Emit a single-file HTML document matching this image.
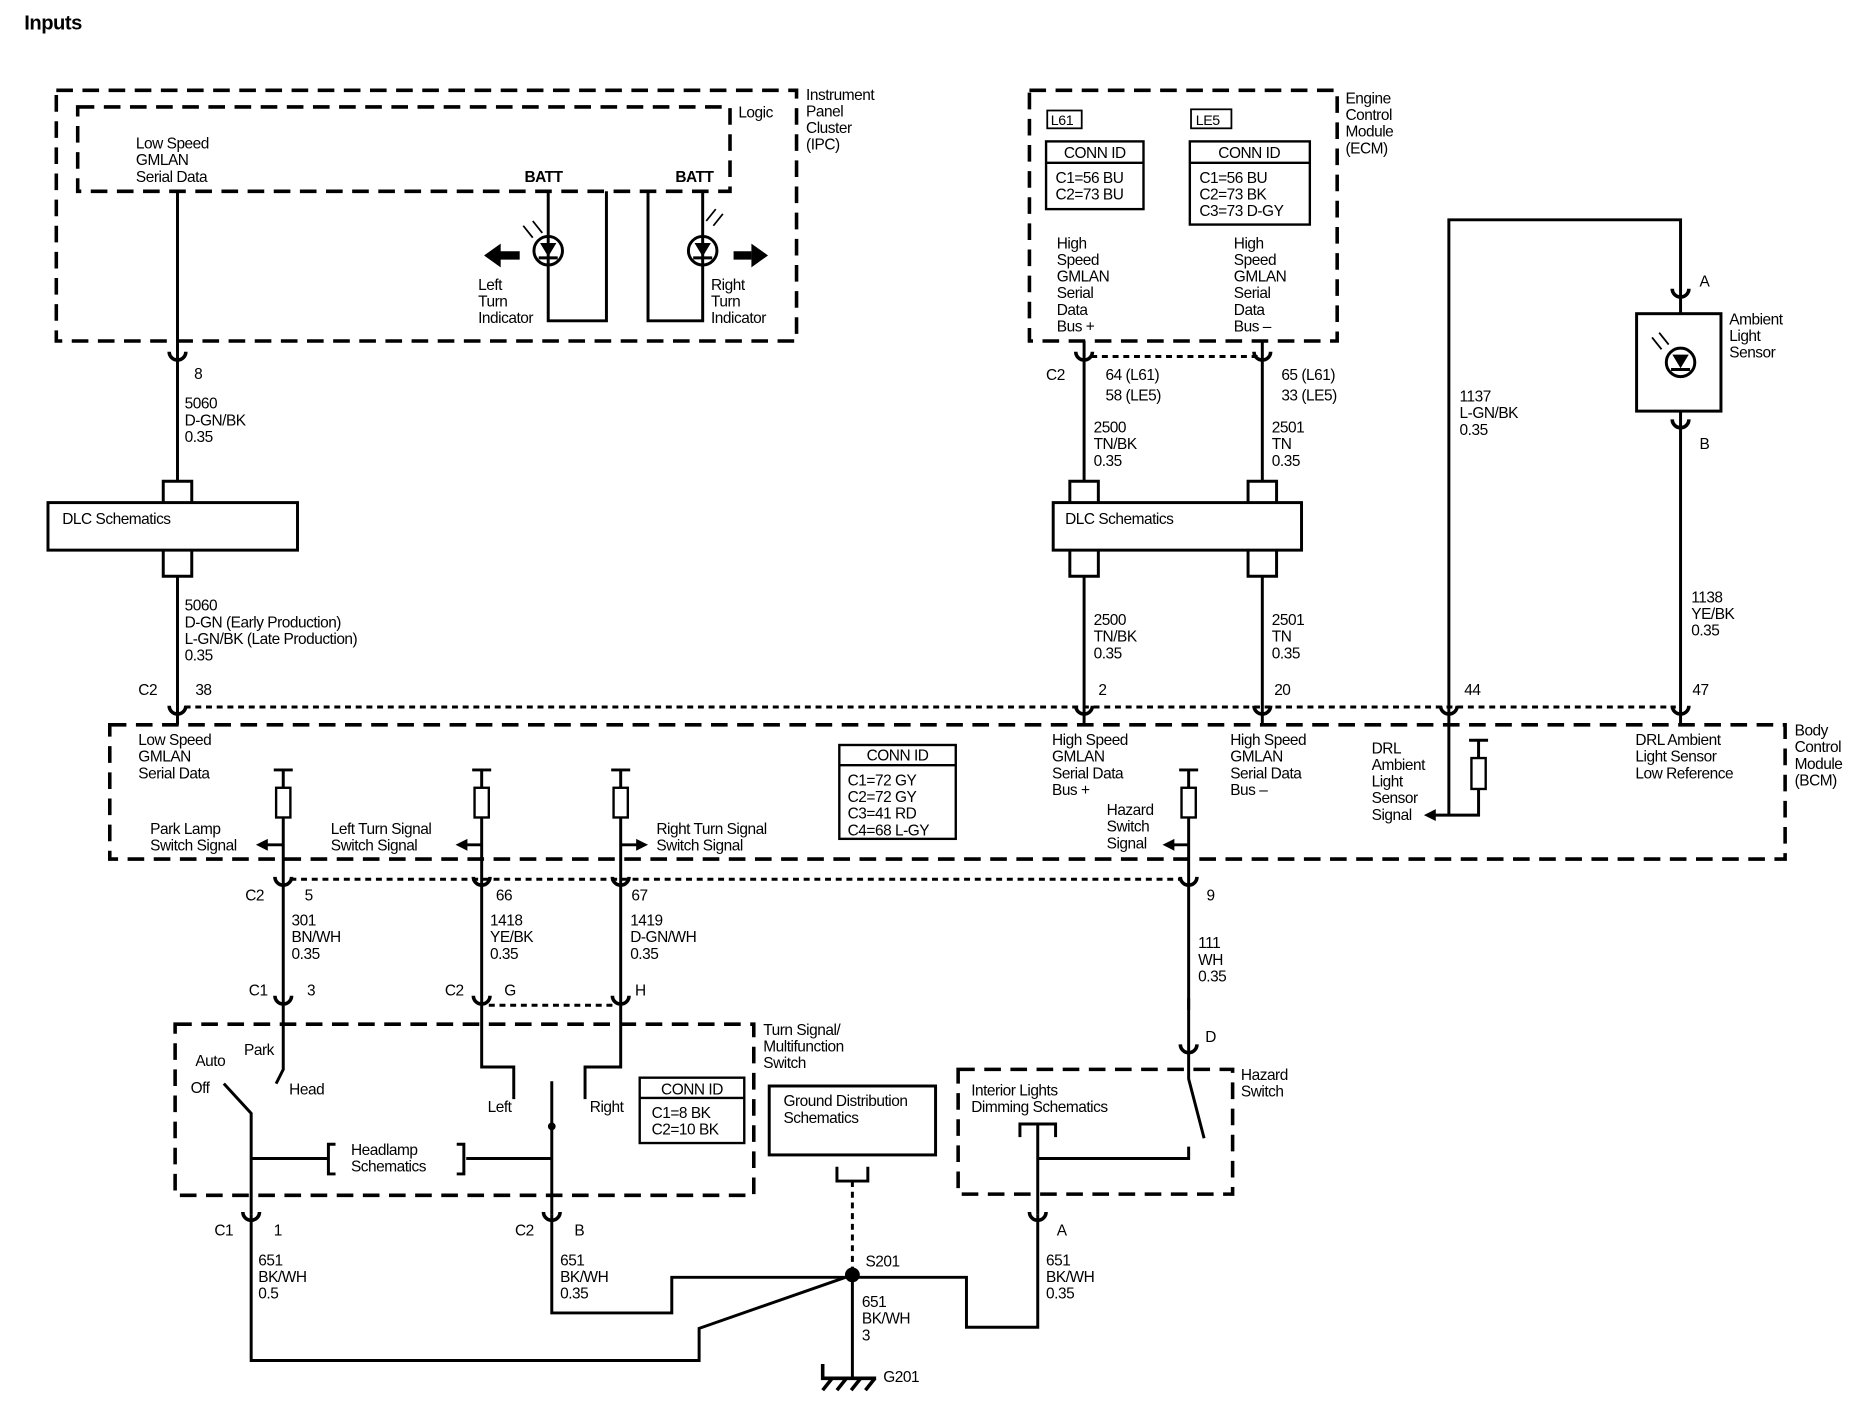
<!DOCTYPE html>
<html><head><meta charset="utf-8"><style>
html,body{margin:0;padding:0;background:#fff}
svg{display:block}
text{font-family:"Liberation Sans",Arial,sans-serif;font-size:13px;fill:#000;letter-spacing:-0.4px}
.b{font-weight:bold}
</style></head><body>
<svg width="1864" height="1408" viewBox="0 0 1568 1185" xmlns="http://www.w3.org/2000/svg">
<defs>
<g id="fc"><path d="M-7,-9 A7 7 0 0 0 7,-9" fill="none" stroke="#000" stroke-width="3"/></g>
</defs>
<g fill="none" stroke="#000" stroke-width="2.5">
<g stroke-width="3" stroke-dasharray="14 8">
<rect x="47" y="76" width="623" height="211"/>
<rect x="65" y="90" width="549" height="71"/>
<rect x="866" y="76" width="259" height="211"/>
<rect x="92" y="610" width="1410" height="113"/>
<rect x="147" y="862" width="487" height="144"/>
<rect x="806" y="900" width="231" height="105"/>
</g>
<g stroke-width="2.5" stroke-dasharray="5 4">
<line x1="155" y1="595" x2="1410" y2="595"/>
<line x1="918" y1="300" x2="1058" y2="300"/>
<line x1="244" y1="740" x2="994" y2="740"/>
<line x1="411" y1="846" x2="516" y2="846"/>
<line x1="717" y1="994" x2="717" y2="1072"/>
</g>
<line x1="149" y1="161" x2="149" y2="405"/>
<path d="M461,161 V270 H510 V161"/>
<path d="M545,161 V270 H591 V161"/>
<circle cx="461" cy="211" r="12"/>
<circle cx="591" cy="211" r="12"/>
<path d="M453,217 H469 M583,217 H599" />
<path d="M455,205 H467 L461,215 Z M585,205 H597 L591,215 Z" fill="#000" stroke-width="1"/>
<path d="M420,215 H437 M617,215 H632" stroke-width="7"/>
<path d="M440,190 l8,10 M448,186 l8,10 M594,186 l8,-10 M600,190 l8,-10" stroke-width="1.5"/>
<rect x="40" y="423" width="210" height="40"/>
<path d="M137,423 V405 H161 V423 M137,463 V485 H161 V463"/>
<line x1="149" y1="485" x2="149" y2="610"/>
<rect x="881" y="93" width="29" height="15" stroke-width="1.5"/>
<rect x="1002" y="92" width="34" height="16" stroke-width="1.5"/>
<rect x="880" y="119" width="82" height="57" stroke-width="2"/>
<line x1="880" y1="137" x2="962" y2="137" stroke-width="2"/>
<rect x="1001" y="119" width="101" height="70" stroke-width="2"/>
<line x1="1001" y1="137" x2="1102" y2="137" stroke-width="2"/>
<line x1="912" y1="287" x2="912" y2="405"/>
<line x1="1062" y1="287" x2="1062" y2="405"/>
<rect x="886" y="423" width="209" height="40"/>
<path d="M900,423 V405 H924 V423 M1050,423 V405 H1074 V423 M900,463 V485 H924 V463 M1050,463 V485 H1074 V463"/>
<line x1="912" y1="485" x2="912" y2="610"/>
<line x1="1062" y1="485" x2="1062" y2="610"/>
<path d="M1219,686 V185 H1414 V264"/>
<rect x="1377" y="264" width="71" height="82"/>
<circle cx="1414" cy="305" r="12"/>
<path d="M1406,311 H1422"/>
<path d="M1408,299 H1420 L1414,309 Z" fill="#000" stroke-width="1"/>
<path d="M1390,284 l8,10 M1396,280 l8,10" stroke-width="1.5"/>
<line x1="1414" y1="346" x2="1414" y2="610"/>
<rect x="706" y="627" width="98" height="79" stroke-width="2"/>
<line x1="706" y1="644" x2="804" y2="644" stroke-width="2"/>
<path d="M1236,623 H1252 M1244,623 V638 M1244,664 V686 H1205"/>
<rect x="1238" y="638" width="12" height="26" stroke-width="2"/>
<g id="pr">
<path d="M230,648 H246 M238,648 V663 M238,688 V850"/>
<rect x="232" y="663" width="12" height="25" stroke-width="2"/>
</g>
<use href="#pr" x="167"/>
<use href="#pr" x="284"/>
<use href="#pr" x="762"/>
<path d="M238,711 H222 M405,711 H390 M522,711 H538 M1000,711 H985"/>
<path d="M238,850 V900 L232,912"/>
<path d="M211,1022 V937 L188,912"/>
<path d="M405,850 V898 H432 V925"/>
<path d="M522,850 V898 H492 V925"/>
<path d="M464,910 V1022"/>
<circle cx="464" cy="948" r="2" fill="#000"/>
<path d="M211,975 H276 M392,975 H464"/>
<path d="M282,963 H276 V988 H282 M384,963 H390 V988 H384"/>
<rect x="538" y="907" width="88" height="55" stroke-width="2"/>
<line x1="538" y1="924" x2="626" y2="924" stroke-width="2"/>
<rect x="647" y="914" width="140" height="58"/>
<path d="M704,982 V994 H730 V982"/>
<path d="M1000,840 V908 L1013,958"/>
<path d="M1000,965 V975 H873"/>
<path d="M858,957 V946 H888 V957 M873,946 V1022"/>
<path d="M211,1022 V1145 H588 V1118 L717,1073"/>
<path d="M464,1022 V1105 H565 V1075 H717"/>
<path d="M873,1022 V1117 H813 V1075 H717"/>
<path d="M717,1073 V1160"/>
<circle cx="717" cy="1073" r="5" fill="#000"/>
<path d="M692,1148 V1160 H737 M700,1160 l-8,10 M712,1160 l-8,10 M724,1160 l-8,10 M736,1160 l-8,10" stroke-width="3"/>
</g>
<g fill="#000">
<polygon points="407,215 421,205 421,225"/>
<polygon points="646,215 632,205 632,225"/>
<polygon points="215,711 225,706 225,716"/>
<polygon points="383,711 393,706 393,716"/>
<polygon points="545,711 535,706 535,716"/>
<polygon points="978,711 988,706 988,716"/>
<polygon points="1198,686 1208,681 1208,691"/>
</g>
<use href="#fc" x="149" y="305"/>
<use href="#fc" x="912" y="305"/>
<use href="#fc" x="1062" y="305"/>
<use href="#fc" x="149" y="603"/>
<use href="#fc" x="912" y="603"/>
<use href="#fc" x="1062" y="603"/>
<use href="#fc" x="1219" y="603"/>
<use href="#fc" x="1414" y="603"/>
<use href="#fc" x="1414" y="252"/>
<use href="#fc" x="1414" y="362"/>
<use href="#fc" x="238" y="747"/>
<use href="#fc" x="405" y="747"/>
<use href="#fc" x="522" y="747"/>
<use href="#fc" x="1000" y="747"/>
<use href="#fc" x="238" y="847"/>
<use href="#fc" x="405" y="847"/>
<use href="#fc" x="522" y="847"/>
<use href="#fc" x="1000" y="888"/>
<use href="#fc" x="211" y="1029"/>
<use href="#fc" x="464" y="1029"/>
<use href="#fc" x="873" y="1029"/>
<text x="20" y="25" class="b" style="font-size:17px">Inputs</text>
<text x="678" y="84">Instrument</text><text x="678" y="98">Panel</text><text x="678" y="112">Cluster</text><text x="678" y="126">(IPC)</text>
<text x="621" y="99">Logic</text>
<text x="114" y="125">Low Speed</text><text x="114" y="139">GMLAN</text><text x="114" y="153">Serial Data</text>
<text x="441" y="153" class="b">BATT</text><text x="568" y="153" class="b">BATT</text>
<text x="402" y="244">Left</text><text x="402" y="258">Turn</text><text x="402" y="272">Indicator</text>
<text x="598" y="244">Right</text><text x="598" y="258">Turn</text><text x="598" y="272">Indicator</text>
<text x="163" y="319">8</text>
<text x="155" y="344">5060</text><text x="155" y="358">D-GN/BK</text><text x="155" y="372">0.35</text>
<text x="52" y="441">DLC Schematics</text>
<text x="155" y="514">5060</text><text x="155" y="528">D-GN (Early Production)</text><text x="155" y="542">L-GN/BK (Late Production)</text><text x="155" y="556">0.35</text>
<text x="116" y="585">C2</text><text x="164" y="585">38</text>
<text x="1132" y="87">Engine</text><text x="1132" y="101">Control</text><text x="1132" y="115">Module</text><text x="1132" y="129">(ECM)</text>
<text x="884" y="105" style="font-size:12px">L61</text><text x="1006" y="105" style="font-size:12px">LE5</text>
<text x="921" y="133" text-anchor="middle">CONN ID</text><text x="888" y="154">C1=56 BU</text><text x="888" y="168">C2=73 BU</text>
<text x="1051" y="133" text-anchor="middle">CONN ID</text><text x="1009" y="154">C1=56 BU</text><text x="1009" y="168">C2=73 BK</text><text x="1009" y="182">C3=73 D-GY</text>
<text x="889" y="209">High</text><text x="889" y="223">Speed</text><text x="889" y="237">GMLAN</text><text x="889" y="251">Serial</text><text x="889" y="265">Data</text><text x="889" y="279">Bus +</text>
<text x="1038" y="209">High</text><text x="1038" y="223">Speed</text><text x="1038" y="237">GMLAN</text><text x="1038" y="251">Serial</text><text x="1038" y="265">Data</text><text x="1038" y="279">Bus –</text>
<text x="880" y="320">C2</text><text x="930" y="320">64 (L61)</text><text x="930" y="337">58 (LE5)</text>
<text x="1078" y="320">65 (L61)</text><text x="1078" y="337">33 (LE5)</text>
<text x="920" y="364">2500</text><text x="920" y="378">TN/BK</text><text x="920" y="392">0.35</text>
<text x="1070" y="364">2501</text><text x="1070" y="378">TN</text><text x="1070" y="392">0.35</text>
<text x="896" y="441">DLC Schematics</text>
<text x="920" y="526">2500</text><text x="920" y="540">TN/BK</text><text x="920" y="554">0.35</text>
<text x="1070" y="526">2501</text><text x="1070" y="540">TN</text><text x="1070" y="554">0.35</text>
<text x="924" y="585">2</text><text x="1072" y="585">20</text><text x="1232" y="585">44</text><text x="1424" y="585">47</text>
<text x="1430" y="241">A</text><text x="1430" y="378">B</text>
<text x="1455" y="273">Ambient</text><text x="1455" y="287">Light</text><text x="1455" y="301">Sensor</text>
<text x="1228" y="338">1137</text><text x="1228" y="352">L-GN/BK</text><text x="1228" y="366">0.35</text>
<text x="1423" y="507">1138</text><text x="1423" y="521">YE/BK</text><text x="1423" y="535">0.35</text>
<text x="1510" y="619">Body</text><text x="1510" y="633">Control</text><text x="1510" y="647">Module</text><text x="1510" y="661">(BCM)</text>
<text x="116" y="627">Low Speed</text><text x="116" y="641">GMLAN</text><text x="116" y="655">Serial Data</text>
<text x="885" y="627">High Speed</text><text x="885" y="641">GMLAN</text><text x="885" y="655">Serial Data</text><text x="885" y="669">Bus +</text>
<text x="1035" y="627">High Speed</text><text x="1035" y="641">GMLAN</text><text x="1035" y="655">Serial Data</text><text x="1035" y="669">Bus –</text>
<text x="1154" y="634">DRL</text><text x="1154" y="648">Ambient</text><text x="1154" y="662">Light</text><text x="1154" y="676">Sensor</text><text x="1154" y="690">Signal</text>
<text x="1376" y="627">DRL Ambient</text><text x="1376" y="641">Light Sensor</text><text x="1376" y="655">Low Reference</text>
<text x="755" y="640" text-anchor="middle">CONN ID</text><text x="713" y="661">C1=72 GY</text><text x="713" y="675">C2=72 GY</text><text x="713" y="689">C3=41 RD</text><text x="713" y="703">C4=68 L-GY</text>
<text x="126" y="702">Park Lamp</text><text x="126" y="716">Switch Signal</text>
<text x="278" y="702">Left Turn Signal</text><text x="278" y="716">Switch Signal</text>
<text x="552" y="702">Right Turn Signal</text><text x="552" y="716">Switch Signal</text>
<text x="931" y="686">Hazard</text><text x="931" y="700">Switch</text><text x="931" y="714">Signal</text>
<text x="206" y="758">C2</text><text x="256" y="758">5</text><text x="417" y="758">66</text><text x="531" y="758">67</text><text x="1015" y="758">9</text>
<text x="245" y="779">301</text><text x="245" y="793">BN/WH</text><text x="245" y="807">0.35</text>
<text x="412" y="779">1418</text><text x="412" y="793">YE/BK</text><text x="412" y="807">0.35</text>
<text x="530" y="779">1419</text><text x="530" y="793">D-GN/WH</text><text x="530" y="807">0.35</text>
<text x="1008" y="798">111</text><text x="1008" y="812">WH</text><text x="1008" y="826">0.35</text>
<text x="209" y="838">C1</text><text x="258" y="838">3</text><text x="374" y="838">C2</text><text x="424" y="838">G</text><text x="534" y="838">H</text>
<text x="1014" y="877">D</text>
<text x="642" y="871">Turn Signal/</text><text x="642" y="885">Multifunction</text><text x="642" y="899">Switch</text>
<text x="205" y="888">Park</text><text x="164" y="897">Auto</text><text x="160" y="920">Off</text><text x="243" y="921">Head</text>
<text x="410" y="936">Left</text><text x="496" y="936">Right</text>
<text x="582" y="921" text-anchor="middle">CONN ID</text><text x="548" y="941">C1=8 BK</text><text x="548" y="955">C2=10 BK</text>
<text x="295" y="972">Headlamp</text><text x="295" y="986">Schematics</text>
<text x="659" y="931">Ground Distribution</text><text x="659" y="945">Schematics</text>
<text x="1044" y="909">Hazard</text><text x="1044" y="923">Switch</text>
<text x="817" y="922">Interior Lights</text><text x="817" y="936">Dimming Schematics</text>
<text x="180" y="1040">C1</text><text x="230" y="1040">1</text><text x="433" y="1040">C2</text><text x="483" y="1040">B</text><text x="889" y="1040">A</text>
<text x="217" y="1065">651</text><text x="217" y="1079">BK/WH</text><text x="217" y="1093">0.5</text>
<text x="471" y="1065">651</text><text x="471" y="1079">BK/WH</text><text x="471" y="1093">0.35</text>
<text x="880" y="1065">651</text><text x="880" y="1079">BK/WH</text><text x="880" y="1093">0.35</text>
<text x="728" y="1066">S201</text>
<text x="725" y="1100">651</text><text x="725" y="1114">BK/WH</text><text x="725" y="1128">3</text>
<text x="743" y="1163">G201</text>
</svg>
</body></html>
